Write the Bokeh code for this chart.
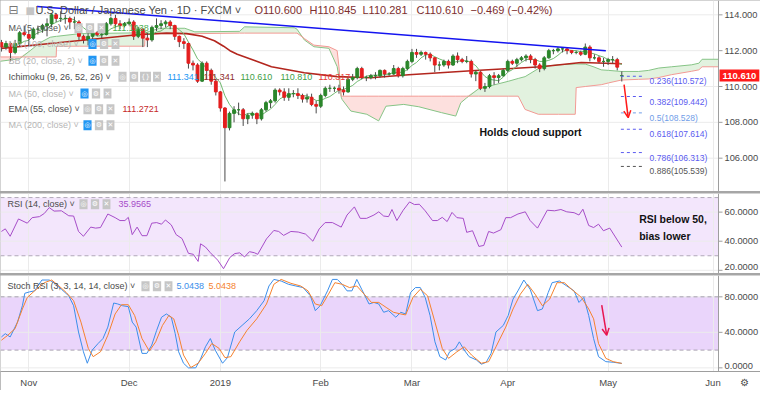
import numpy as np
import pandas as pd
from bokeh.plotting import figure
from bokeh.models import (ColumnDataSource, Range1d, FixedTicker, Label, Arrow, OpenHead,
                          Span, BoxAnnotation, Grid)
from bokeh.layouts import column
from bokeh.embed import file_html
from bokeh.resources import INLINE

# ---------------------------------------------------------------- data
start_date = "2018-10-24"
holidays = ["2018-12-25", "2019-01-01"]

first_open = 112.45
last_open = 110.600
closes = [
    112.20, 112.40, 111.90, 112.40, 113.00, 112.90,
    112.70, 113.20, 113.20, 113.40, 113.50, 114.00, 113.80, 113.80, 113.80, 113.60, 113.60,
    112.80, 112.60, 112.80, 113.00, 112.90, 112.90, 113.50, 113.80, 113.50, 113.40, 113.50,
    113.60, 112.80, 113.20, 112.70, 112.60, 113.30, 113.40, 113.50, 113.60, 113.40, 112.80,
    112.50, 112.40, 111.30, 111.20, 110.30, 111.30, 110.90, 110.30, 109.70,
    108.80, 107.70, 108.50, 108.70, 108.70, 108.20, 108.40, 108.50, 108.20, 108.70, 109.10,
    109.20, 109.80, 109.70, 109.40, 109.60, 109.60, 109.50, 109.30, 109.40, 109.00, 108.90,
    109.50, 109.90, 109.90, 109.90, 109.80, 109.70, 110.40, 110.50, 111.00, 110.50, 110.50,
    110.60, 110.60, 110.90, 110.70, 110.70, 111.00, 110.60, 111.00, 111.40,
    111.90, 111.80, 111.90, 111.80, 111.60, 111.20, 111.20, 111.40, 111.20, 111.70, 111.50,
    111.40, 111.40, 110.70, 110.80, 109.90, 110.00, 110.60, 110.50, 110.60, 110.90,
    111.40, 111.30, 111.50, 111.60, 111.70, 111.50, 111.20, 111.00, 111.60, 112.00, 112.00,
    112.10, 112.10, 112.00, 111.90, 111.90, 111.80, 112.20, 111.60, 111.60, 111.40, 111.40,
    111.50, 111.50, 111.08, 110.61]
highs = [
    112.60, 112.55, 112.50, 112.60, 113.10, 113.40,
    113.10, 113.30, 113.40, 113.50, 113.80, 114.10, 114.10, 114.20, 114.00, 113.90, 113.90,
    113.70, 112.90, 113.00, 113.10, 113.10, 113.00, 113.60, 113.90, 114.00, 113.70, 113.60,
    113.80, 113.70, 113.30, 113.25, 113.00, 113.40, 113.80, 113.70, 113.70, 113.70, 113.45,
    112.85, 112.70, 112.45, 111.45, 111.30, 111.40, 111.40, 111.00, 110.40,
    109.75, 108.85, 108.60, 108.90, 109.10, 108.80, 108.50, 108.60, 108.55, 108.80, 109.20,
    109.30, 109.90, 109.90, 109.90, 109.90, 109.80, 109.90, 109.60, 109.60, 109.60, 109.20,
    109.60, 110.00, 110.10, 110.00, 110.10, 110.00, 110.50, 110.70, 111.10, 111.10, 110.60,
    110.70, 110.80, 110.95, 110.95, 110.80, 111.20, 111.10, 111.10, 111.50,
    112.10, 112.10, 112.00, 111.95, 111.90, 111.65, 111.40, 111.50, 111.50, 111.80, 111.90,
    111.60, 111.70, 111.50, 110.90, 110.85, 110.20, 110.70, 110.80, 110.70, 111.00,
    111.50, 111.50, 111.60, 111.70, 111.80, 111.80, 111.60, 111.30, 111.70, 112.10, 112.10,
    112.20, 112.20, 112.20, 112.00, 112.00, 112.00, 112.40, 112.30, 111.80, 111.70, 111.60,
    111.60, 111.70, 111.60, 110.845]
lows = [
    111.95, 112.05, 111.40, 111.80, 112.25, 112.80,
    112.20, 112.60, 112.90, 113.00, 112.80, 113.30, 113.60, 113.60, 113.50, 113.20, 113.20,
    112.60, 112.40, 112.30, 112.60, 112.80, 112.70, 112.85, 113.40, 113.30, 113.20, 113.30,
    113.40, 112.60, 112.70, 112.20, 112.20, 112.50, 113.10, 113.20, 113.30, 113.20, 112.60,
    112.20, 112.10, 111.00, 110.90, 110.20, 110.25, 110.40, 110.10, 109.50,
    108.60, 104.70, 107.55, 108.00, 108.40, 107.80, 107.90, 108.20, 107.90, 108.10, 108.60,
    108.80, 109.10, 109.50, 109.20, 109.20, 109.40, 109.30, 109.10, 109.10, 108.90, 108.50,
    108.80, 109.40, 109.70, 109.70, 109.60, 109.50, 109.65, 110.30, 110.40, 110.40, 110.30,
    110.40, 110.40, 110.50, 110.50, 110.60, 110.65, 110.50, 110.50, 110.90,
    111.30, 111.60, 111.70, 111.50, 111.40, 110.80, 110.90, 111.10, 111.00, 111.15, 111.30,
    111.30, 111.30, 110.50, 110.30, 109.80, 109.70, 109.90, 110.10, 110.20, 110.55,
    110.80, 111.20, 111.10, 111.40, 111.40, 111.30, 111.00, 110.80, 110.90, 111.55, 111.80,
    111.90, 111.90, 111.80, 111.80, 111.80, 111.70, 111.75, 111.40, 111.50, 111.30, 111.10,
    111.20, 111.30, 110.90, 110.281]

# EMA(55) (bar position, value)
ema55_pos = [0, 10.7, 21.6, 30.3, 36.2, 40.6, 44.0, 46.7, 48.7, 50.1, 51.7, 55.5, 59.2,
             66.4, 73.6, 81.0, 89.3, 103.9, 118.3, 127.1, 136]
ema55_val = [112.13, 112.40, 112.68, 112.90, 112.98, 112.95, 112.80, 112.55, 112.25, 112.00,
             111.80, 111.45, 111.10, 110.77, 110.55, 110.49, 110.66, 110.89, 111.10, 111.34, 111.27]

# Ichimoku cloud (leading spans, already displaced)
cloud_pos = [-0.5, 4.0, 6.3, 8.5, 10.7, 12.0, 12.1, 17.2, 31.4, 31.5, 34.7, 40.2, 42.4, 52.2,
             53.3, 64.2, 64.8, 66.4, 68.5, 71.8, 73.6, 74.0, 74.5, 74.7, 76.6, 80.1, 82.7,
             84.3, 88.2, 91.5, 96.5, 99.6, 100.7, 102.0, 104.6, 111.1, 113.3, 114.8, 117.7,
             118.3, 122.1, 125.8, 126.0, 128.0, 129.7, 131.5, 133.1, 135.9, 139.7, 141.9,
             144.1, 146.9, 151.3, 152.9, 153.6, 157.2]
span_a = [111.40, 111.55, 112.00, 112.45, 112.75, 112.80, 112.80, 112.95, 113.00, 113.00,
          113.25, 113.25, 113.05, 113.08, 113.33, 113.28, 113.20, 112.60, 112.22, 112.13,
          111.11, 110.50, 109.40, 109.27, 108.63, 108.45, 108.08, 108.90, 109.00, 108.87,
          108.54, 108.35, 109.09, 109.37, 109.87, 110.29, 110.45, 110.55, 111.00, 111.11,
          111.21, 111.26, 111.26, 111.25, 111.11, 110.93, 110.90, 110.84, 110.84, 110.90,
          111.03, 111.10, 111.21, 111.30, 111.52, 111.52]
span_b = [111.65, 111.65, 111.65, 111.65, 111.65, 111.65, 112.25, 112.25, 112.25, 112.95,
          112.95, 112.95, 112.95, 112.98, 112.98, 112.98, 112.98, 112.68, 112.31, 112.22,
          112.00, 111.10, 109.46, 109.46, 109.46, 109.46, 109.46, 109.46, 109.46, 109.46,
          109.46, 109.46, 109.46, 109.46, 109.46, 109.46, 109.46, 108.72, 108.45, 108.45,
          108.45, 108.45, 109.94, 110.00, 110.05, 110.10, 110.20, 110.36, 110.40, 110.42,
          110.50, 110.66, 110.85, 110.93, 111.10, 111.10]

# RSI(14)
rsi_pos = [0, 0.85, 1.92, 3.74, 5.67, 6.74, 8.34, 9.41, 10.48, 11.55, 13.16, 14.76, 15.83,
           16.9, 17.98, 19.58, 20.65, 21.72, 23.33, 24.93, 26.0, 27.07, 27.82, 28.68, 29.75,
           30.82, 31.89, 32.96, 34.03, 35.1, 35.96, 37.24, 38.31, 39.6, 40.99, 42.06, 43.13,
           43.66, 44.73, 45.8, 47.41, 48.69, 50.08, 51.15, 52.23, 53.3, 54.37, 55.44, 56.19,
           58.11, 59.72, 60.79, 61.86, 63.46, 65.07, 66.67, 68.28, 69.67, 70.96, 72.56, 74.49,
           75.77, 77.38, 78.66, 80.05, 81.66, 82.73, 83.8, 84.87, 85.62, 86.69, 88.08, 89.47,
           90.54, 91.61, 92.9, 94.5, 95.57, 96.64, 97.71, 98.78, 99.86, 101.25, 102.0, 103.28,
           104.67, 105.74, 106.81, 107.88, 109.49, 110.56, 111.63, 113.23, 114.84, 115.91,
           117.52, 119.66, 121.26, 122.65, 123.94, 125.54, 126.61, 127.47, 128.75, 129.82,
           130.9, 131.97, 133.36, 136]
rsi_val = [46.7, 48.5, 43.4, 55.3, 52.4, 56.2, 56.9, 59.1, 63.1, 60.7, 60.9, 57.5, 57.3,
           46.7, 43.4, 49.7, 49.0, 49.4, 58.7, 56.2, 54.2, 54.2, 56.4, 44.5, 49.7, 43.8, 43.8,
           52.4, 52.8, 51.7, 54.6, 51.2, 44.5, 41.8, 31.7, 31.0, 26.1, 38.2, 36.0, 32.1, 27.0,
           21.1, 28.8, 31.5, 32.0, 29.2, 32.8, 32.1, 31.0, 41.6, 47.4, 46.7, 44.0, 46.7, 46.3,
           44.9, 40.0, 48.5, 52.8, 52.8, 49.7, 58.0, 63.6, 55.7, 55.7, 58.0, 60.2, 57.3, 56.9,
           61.8, 54.2, 61.3, 67.0, 65.2, 65.4, 60.9, 54.2, 54.2, 56.4, 53.5, 59.8, 56.2, 55.7,
           46.1, 47.2, 36.4, 37.1, 46.7, 45.6, 47.9, 56.2, 56.2, 58.7, 60.2, 54.2, 49.0, 61.3,
           60.9, 61.8, 60.2, 59.6, 58.0, 62.0, 50.8, 49.4, 51.7, 47.2, 49.0, 35.96]

# Stoch RSI (3, 3, 14, 14): %K and %D
k_pos = [0, 0.85, 1.92, 3.53, 4.6, 5.13, 6.2, 7.27, 8.88, 10.48, 11.55, 13.16, 14.76, 15.83,
         16.9, 17.98, 18.83, 19.9, 21.19, 22.26, 23.33, 24.61, 25.47, 26.54, 27.82, 28.68,
         29.53, 30.82, 31.89, 32.96, 34.03, 35.1, 36.17, 37.24, 38.1, 38.85, 39.92, 40.99,
         42.59, 43.66, 44.73, 45.8, 46.87, 48.48, 49.55, 51.15, 52.76, 54.37, 55.97, 57.58,
         58.65, 59.72, 61.32, 62.93, 64.53, 66.14, 67.74, 68.81, 69.88, 71.49, 72.56, 73.63,
         74.7, 75.77, 76.84, 77.91, 78.98, 80.59, 81.66, 82.73, 83.8, 84.87, 86.47, 87.54,
         88.61, 89.69, 90.76, 91.83, 92.9, 93.97, 95.04, 96.11, 97.39, 98.25, 99.53, 100.39,
         101.46, 102.53, 104.13, 105.2, 106.27, 107.35, 108.42, 110.02, 111.09, 112.16,
         113.23, 114.52, 115.91, 117.52, 118.58, 119.87, 120.72, 122.33, 123.94, 125.54,
         126.61, 127.68, 128.75, 129.82, 130.9, 132.5, 134.11, 136]
k_val = [34.8, 38.5, 34.8, 51.5, 70.0, 84.0, 85.6, 86.7, 98.9, 98.9, 95.9, 88.5, 81.1, 70.0,
         40.4, 18.1, 5.2, 20.0, 27.4, 33.0, 45.9, 73.0, 72.0, 70.0, 68.9, 51.5, 45.9, 16.3,
         16.3, 25.6, 42.2, 57.0, 60.7, 57.0, 38.5, 18.1, 5.2, 0.0, 0.0, 10.0, 23.7, 33.0, 20.0,
         5.2, 11.5, 40.4, 47.8, 55.2, 64.4, 75.6, 92.2, 99.6, 97.8, 94.1, 92.2, 90.4, 81.1,
         64.4, 70.0, 86.7, 99.6, 99.6, 94.1, 86.7, 86.7, 99.6, 88.5, 71.9, 73.7, 71.9, 62.6,
         64.4, 57.0, 62.6, 60.7, 84.8, 90.4, 90.4, 79.3, 58.9, 29.3, 12.6, 8.9, 18.1, 21.9,
         29.3, 20.0, 12.6, 8.9, 4.1, 6.3, 16.3, 40.4, 47.8, 58.9, 77.4, 86.7, 98.9, 88.5, 64.4,
         66.3, 84.8, 95.9, 97.8, 92.2, 86.7, 73.7, 79.3, 58.9, 33.0, 12.6, 7.0, 6.3, 5.04]
d_pos = [0, 1.39, 2.99, 4.6, 5.67, 7.27, 9.41, 11.02, 12.62, 14.23, 15.83, 17.44, 19.05,
         20.12, 21.72, 23.33, 24.93, 26.32, 27.82, 29.21, 30.82, 32.42, 33.82, 35.31, 36.7,
         37.78, 38.85, 39.92, 41.52, 43.13, 44.73, 46.12, 47.73, 49.01, 50.3, 52.22, 53.83,
         55.97, 58.11, 59.72, 61.32, 63.46, 65.6, 67.21, 68.81, 70.21, 71.7, 73.1, 74.7,
         76.31, 77.91, 79.52, 81.12, 82.73, 84.33, 85.94, 87.54, 88.61, 90.22, 91.83, 93.43,
         95.04, 96.64, 98.03, 99.85, 101.46, 103.06, 105.2, 106.81, 108.42, 110.56, 112.16,
         113.77, 115.37, 116.98, 118.58, 120.19, 121.8, 123.4, 125.0, 127.14, 128.75, 129.82,
         130.9, 132.5, 134.11, 136]
d_val = [31.1, 36.7, 44.1, 66.3, 79.3, 86.7, 95.9, 98.9, 92.2, 84.8, 75.6, 51.5, 21.9, 12.6,
         18.1, 36.7, 60.7, 71.1, 71.1, 58.9, 33.0, 18.9, 29.3, 47.8, 58.9, 55.2, 36.7, 14.4,
         0.4, 5.2, 16.3, 27.4, 21.9, 11.5, 12.6, 29.3, 42.2, 55.2, 71.9, 94.1, 99.6, 95.2,
         92.2, 86.7, 71.9, 70.0, 83.0, 95.9, 94.1, 90.4, 92.2, 83.0, 73.7, 73.7, 68.1, 62.6,
         60.7, 59.6, 79.3, 88.5, 81.1, 51.5, 21.9, 10.7, 18.1, 23.7, 14.4, 5.2, 7.0, 23.7,
         45.9, 66.3, 83.0, 94.1, 83.0, 70.0, 77.4, 95.9, 95.9, 88.5, 79.3, 66.3, 55.2, 27.4,
         10.7, 7.0, 5.04]

price_ticks = [106, 108, 110, 112, 114]
rsi_ticks = [20, 40, 60]
stoch_ticks = [0, 40, 80]

fib_ratios = ["0.236", "0.382", "0.5", "0.618", "0.786", "0.886"]
fib_prices = [110.572, 109.442, 108.528, 107.614, 106.313, 105.539]
fib_colors = ["#5b5bf0", "#5b5bf0", "#6f9de8", "#5b5bf0", "#5b5bf0", "#555555"]

trend_pos = [7.8, 132.5]
trend_price = [114.47, 112.00]
arrow_main = [136.5, 110.10, 137.4, 108.26]
arrow_stoch = [131.6, 70.7, 132.7, 36.6]

# ---------------------------------------------------------------- layout constants
W = 760
BARS_W = 718                      # pixels used by the bar area; the rest is the price scale
X0, AXIS_X = -0.2, 157.2
PPB = BARS_W / (AXIS_X - X0)      # pixels per bar
X1 = AXIS_X + (W - BARS_W) / PPB
H1, H2, H3F, H3B = 191, 80, 96, 19
FONT = "Liberation Sans"
AXC = "#4a4a4a"
GRID = "#ebebeb"
LINEC = "#9e9e9e"

cal = pd.bdate_range(start_date, periods=220)
cal = cal[~cal.isin(pd.to_datetime(holidays))]
n = len(closes)
x_rng = Range1d(X0, X1)

month_pos, month_lab = [], []
for i in range(1, len(cal)):
    if cal[i].month != cal[i - 1].month and i <= AXIS_X:
        month_pos.append(i)
        month_lab.append("2019" if cal[i].month == 1 else cal[i].strftime("%b"))


def make_fig(h, yr, xaxis=False, mb=0):
    p = figure(width=W, height=h, x_range=x_rng, y_range=Range1d(*yr),
               output_backend="svg", toolbar_location=None,
               x_axis_location="below" if xaxis else None, y_axis_location=None,
               min_border_left=0, min_border_right=0, min_border_top=0,
               min_border_bottom=mb)
    p.outline_line_color = None
    p.border_fill_color = "white"
    p.background_fill_color = "white"
    for g in p.grid:
        g.visible = False
    p.add_layout(Grid(dimension=0, ticker=FixedTicker(ticks=month_pos), grid_line_color=GRID))
    return p


def price_scale(p, ticks, fmt, nudge=None):
    nudge = nudge or {}
    k = len(ticks)
    p.segment(x0=[X0] * k, y0=ticks, x1=[AXIS_X] * k, y1=ticks, line_color=GRID,
              line_width=1, level="underlay")
    p.add_layout(Span(location=AXIS_X, dimension="height", line_color=LINEC, line_width=1))
    p.segment(x0=[AXIS_X] * k, y0=ticks, x1=[AXIS_X + 4 / PPB] * k, y1=ticks,
              line_color=LINEC, line_width=1)
    for t in ticks:
        p.add_layout(Label(x=AXIS_X, y=t, x_offset=6, y_offset=nudge.get(t, 0),
                           text=fmt.format(t), text_color=AXC, text_font_size="9.3px",
                           text_font=FONT, text_baseline="middle"))


def txt(p, x, y, s, color, size="9px", bold=False, font=FONT, align="left"):
    p.add_layout(Label(x=x, y=y, x_units="screen", y_units="screen", text=s,
                       text_color=color, text_font_size=size, text_font=font,
                       text_font_style="bold" if bold else "normal",
                       text_baseline="middle", text_align=align))


def icons(p, x, y, kinds):
    for j, k in enumerate(kinds):
        sym = {"eye": "◎", "eyeb": "◎", "gear": "⚙", "x": "✕", "br": "{}"}[k]
        bg = "#2196f3" if k == "eyeb" else "#c6c6c6"
        p.add_layout(Label(x=x + j * 11.5, y=y, x_units="screen", y_units="screen", text=sym,
                           text_color="white", text_font_size="7px", text_font="DejaVu Sans",
                           text_baseline="middle", text_align="center",
                           background_fill_color=bg, padding=1))


# ---------------------------------------------------------------- main price panel
p1 = make_fig(H1, (104.14, 114.80))
price_scale(p1, price_ticks, "{:.3f}")

a = np.array(span_a)
b = np.array(span_b)
top = np.maximum(a, b)
p1.varea(x=cloud_pos, y1=b, y2=top, fill_color="#e2f2df")
p1.varea(x=cloud_pos, y1=a, y2=top, fill_color="#fde0de")
p1.line(cloud_pos, span_a, line_color="#86c486", line_width=1)
p1.line(cloud_pos, span_b, line_color="#f29a94", line_width=1)

p1.line(ema55_pos, ema55_val, line_color="#b3261e", line_width=1.6)

opens = [first_open] + closes[:-1]
opens[-1] = last_open
idx = list(range(n))
ma5 = pd.Series(closes).rolling(5, min_periods=1).mean().values
p1.line(idx, ma5, line_color="#6fb86f", line_width=1)

up = [c >= o for o, c in zip(opens, closes)]
src = ColumnDataSource(dict(x=idx, top=np.maximum(opens, closes),
                            bottom=np.minimum(opens, closes), high=highs, low=lows,
                            color=["#2b862b" if u else "#e41e1e" for u in up]))
p1.segment(x0="x", y0="low", x1="x", y1="high", source=src, line_color="#4a4a4a", line_width=1)
p1.vbar(x="x", top="top", bottom="bottom", width=0.62, fill_color="color",
        line_color="color", line_width=1, source=src)

p1.line(trend_pos, trend_price, line_color="#1414f0", line_width=1.5)

last = idx[-1]
for r, pr, col in zip(fib_ratios, fib_prices, fib_colors):
    p1.line([last - 0.2, last + 4.6], [pr, pr], line_color=col, line_width=1, line_dash="3 3")
    p1.add_layout(Label(x=last + 6.1, y=pr, text=f"{r}({pr:.3f})", text_color=col,
                        text_font_size="8.5px", text_font=FONT, text_baseline="middle",
                        y_offset=-5))

p1.add_layout(Arrow(end=OpenHead(size=7, line_color="#ff1a1a", line_width=1.5),
                    x_start=arrow_main[0], y_start=arrow_main[1],
                    x_end=arrow_main[2], y_end=arrow_main[3],
                    line_color="#ff1a1a", line_width=1.5))

p1.add_layout(Label(x=104.8, y=107.45, text="Holds cloud support", text_color="#111111",
                    text_font_size="10.5px", text_font=FONT, text_font_style="bold",
                    text_baseline="middle"))

# last price box on the price scale
p1.add_layout(Label(x=AXIS_X, y=closes[-1], text=f"{closes[-1]:.3f}", text_color="white",
                    text_font_size="9.5px", text_font=FONT, text_font_style="bold",
                    text_baseline="middle", background_fill_color="#ff1a1a", x_offset=1,
                    padding=3))


def ty1(yref):
    return H1 - yref * H1 / 193.0


# header
txt(p1, 8, ty1(10), "⊟", "#777777", size="12px", font="DejaVu Sans")
txt(p1, 25, ty1(10), "■", "#c4c4c4", size="10px", font="DejaVu Sans")
txt(p1, 35, ty1(10), "U.S. Dollar / Japanese Yen · 1D · FXCM ˅", "#4a4a4a", size="11px")
for xx, s in zip([254, 309, 362, 416, 470, 507],
                 ["O110.600", "H110.845", "L110.281", "C110.610", "−0.469", "(−0.42%)"]):
    txt(p1, xx, ty1(10), s, "#7d2e2e", size="11px")

# indicator legend
FADE = "#b5b5b5"
rows = [
    (28, "MA (5, close) ˅", "#555555", 78, ["eye", "gear", "x"], [(112, "111.1938", "#4caf50")]),
    (44, "MA (100, close) ˅", FADE, 92, ["eyeb", "gear", "x"], []),
    (61, "BB (20, close, 2) ˅", FADE, 92, ["eyeb", "gear", "x"], []),
    (77, "Ichimoku (9, 26, 52, 26) ˅", "#4a4a4a", 122, ["eye", "gear", "br", "x"],
     [(167, "111.341", "#2196f3"), (203, "111.341", "#8d2a2a"), (240, "110.610", "#43a047"),
      (280, "110.810", "#43a047"), (318, "110.317", "#e53935")]),
    (94, "MA (50, close) ˅", FADE, 84, ["eyeb", "gear", "x"], []),
    (110, "EMA (55, close) ˅", "#4a4a4a", 87, ["eye", "gear", "x"], [(122, "111.2721", "#c62828")]),
    (126, "MA (200, close) ˅", FADE, 87, ["eyeb", "gear", "x"], []),
]
for yref, name, col, ix, kinds, vals in rows:
    y = ty1(yref)
    txt(p1, 8, y, name, col, size="9px")
    icons(p1, ix, y, kinds)
    for vx, vs, vc in vals:
        txt(p1, vx, y, vs, vc, size="9px")

# ---------------------------------------------------------------- RSI panel
p2 = make_fig(H2, (17.8, 72.8))
p2.add_layout(BoxAnnotation(bottom=30, top=70, right=AXIS_X, fill_color="#f3e6fc",
                            fill_alpha=1, line_color=None, level="image"))
price_scale(p2, rsi_ticks, "{:.4f}", nudge={20: 3})
for lv in (70, 30):
    p2.line([X0, AXIS_X], [lv, lv], line_color="#b0a8b8", line_dash="4 3", line_width=1)
p2.line(rsi_pos, rsi_val, line_color="#a64dc8", line_width=1)
p2.add_layout(Label(x=139.8, y=55.1, text="RSI below 50,", text_color="#111111",
                    text_font_size="10.5px", text_font=FONT, text_font_style="bold",
                    text_baseline="middle"))
p2.add_layout(Label(x=139.8, y=43.6, text="bias lower", text_color="#111111",
                    text_font_size="10.5px", text_font=FONT, text_font_style="bold",
                    text_baseline="middle"))
y2 = H2 - 11 * H2 / 81.3
txt(p2, 7, y2, "RSI (14, close) ˅", "#4a4a4a", size="9px")
icons(p2, 83, y2, ["eye", "gear", "x"])
txt(p2, 118, y2, "35.9565", "#a64dc8", size="9px")

# ---------------------------------------------------------------- Stoch RSI panel
p3 = make_fig(H3F + H3B, (-4.1, 104.0), xaxis=True, mb=H3B)
p3.add_layout(BoxAnnotation(bottom=20, top=80, right=AXIS_X, fill_color="#ead5fb",
                            fill_alpha=1, line_color=None, level="image"))
price_scale(p3, stoch_ticks, "{:.4f}", nudge={0: 2})
for lv in (80, 20):
    p3.line([X0, AXIS_X], [lv, lv], line_color="#a8a0b0", line_dash="4 3", line_width=1)
p3.line(k_pos, k_val, line_color="#3b8eea", line_width=1)
p3.line(d_pos, d_val, line_color="#f5822e", line_width=1)
p3.add_layout(Arrow(end=OpenHead(size=7, line_color="#e8174f", line_width=1.5),
                    x_start=arrow_stoch[0], y_start=arrow_stoch[1],
                    x_end=arrow_stoch[2], y_end=arrow_stoch[3],
                    line_color="#e8174f", line_width=1.5))
gear_pos = 163
xa = p3.xaxis[0]
xa.ticker = FixedTicker(ticks=month_pos + [gear_pos])
overrides = {pos: lab for pos, lab in zip(month_pos, month_lab)}
overrides[gear_pos] = "⚙"
xa.major_label_overrides = overrides
xa.major_label_text_font_size = "9.5px"
xa.major_label_text_font = FONT
xa.major_label_text_color = AXC
xa.axis_line_color = LINEC
xa.major_tick_line_color = None
xa.major_tick_out = 0
xa.major_tick_in = 0
xa.minor_tick_line_color = None
xa.major_label_standoff = 5
y3 = H3F - 11 * H3F / 98.3
txt(p3, 7, y3, "Stoch RSI (3, 3, 14, 14, close) ˅", "#4a4a4a", size="9px")
icons(p3, 145, y3, ["eye", "gear", "x"])
txt(p3, 176, y3, "5.0438", "#3b8eea", size="9px")
txt(p3, 208, y3, "5.0438", "#f5822e", size="9px")

layout = column(p1, p2, p3, spacing=2, styles={"background-color": "#a6a6a6"})
open("out.html", "w").write(file_html(layout, INLINE))
